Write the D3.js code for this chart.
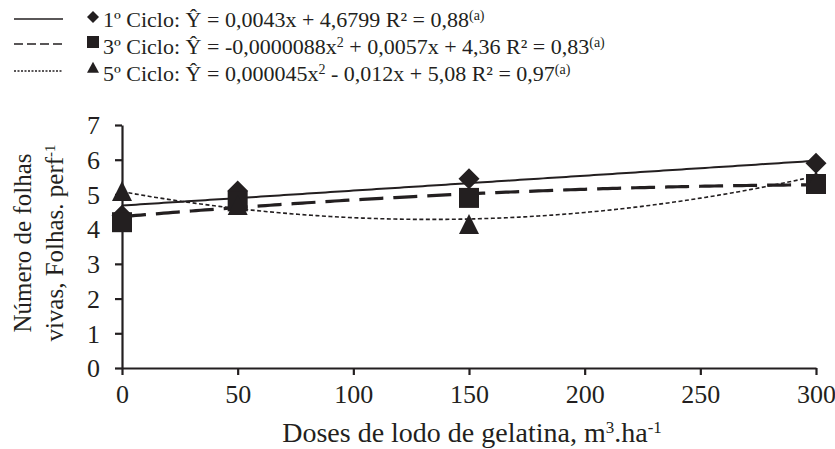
<!DOCTYPE html>
<html>
<head>
<meta charset="utf-8">
<script src="https://cdn.jsdelivr.net/npm/d3@7/dist/d3.min.js"></script>
<style>
  html, body { margin: 0; padding: 0; background: #fff; }
  svg { display: block; }
  text { font-family: "Liberation Serif", "Times New Roman", serif; fill: #231f20; }
</style>
</head>
<body>
<svg id="chart" width="835" height="449"></svg>
<script>
// Doses of gelatin sludge (m³/ha)
const doses = [0, 50, 150, 300];

// Mean number of live leaves per tiller, by growth cycle
const ciclo1 = [4.4, 5.1, 5.45, 5.9];
const ciclo3 = [4.2, 4.8, 4.9, 5.3];
const ciclo5 = [5.0, 4.6, 4.05, 5.3];

// Fitted regression coefficients [c2, c1, c0] for ŷ = c2·x² + c1·x + c0
const coef1 = [0, 0.0043, 4.6799];
const coef3 = [-0.0000088, 0.0057, 4.36];
const coef5 = [0.000045, -0.012, 5.08];

const xTicks = [0, 50, 100, 150, 200, 250, 300];
const yTicks = [0, 1, 2, 3, 4, 5, 6, 7];

const ink = "#231f20";
const legendFont = "22px";
const axisFont = "26px";
const xTitleFont = "28px";
const yTitleFont = "25px";
const supSize = "15px";
const svg = d3.select("#chart");

const x = d3.scaleLinear().domain([0, 300]).range([122, 816]);
const y = d3.scaleLinear().domain([0, 7]).range([368, 125]);

// Axes
const xAxis = svg.append("g")
  .attr("transform", `translate(0,${y(0)})`)
  .call(d3.axisBottom(x).tickValues(xTicks).tickFormat(d3.format("d"))
    .tickSize(7).tickSizeOuter(0).tickPadding(10));
const yAxis = svg.append("g")
  .attr("transform", `translate(${x(0)},0)`)
  .call(d3.axisLeft(y).tickValues(yTicks).tickFormat(d3.format("d"))
    .tickSize(7).tickSizeOuter(0).tickPadding(15));

[xAxis, yAxis].forEach(g => {
  g.select(".domain").attr("stroke", ink).attr("stroke-width", 2.2);
  g.selectAll(".tick line").attr("stroke", ink).attr("stroke-width", 2.2);
  g.selectAll(".tick text")
    .attr("fill", ink)
    .style("font-family", '"Liberation Serif", "Times New Roman", serif')
    .style("font-size", axisFont);
});
yAxis.selectAll(".tick text").attr("dy", "0.34em");

// Marker shapes
function diamondPath(r) { return `M0,${-r}L${r},0L0,${r}L${-r},0Z`; }
function squarePath(h) { return `M${-h},${-h}H${h}V${h}H${-h}Z`; }
function trianglePath(w, h) { return `M0,${-h * 2 / 3}L${w / 2},${h / 3}L${-w / 2},${h / 3}Z`; }

const series = [
  { values: ciclo1, coef: coef1, dash: null, width: 2, shape: diamondPath(10.5), legendShape: diamondPath(6),
    eq: [{ t: "1º Ciclo: Ŷ = 0,0043x + 4,6799 R² = 0,88" }, { t: "(a)", sup: true }] },
  { values: ciclo3, coef: coef3, dash: "24,10", width: 3.2, shape: squarePath(10), legendShape: squarePath(6),
    eq: [{ t: "3º Ciclo: Ŷ = -0,0000088x" }, { t: "2", sup: true }, { t: " + 0,0057x + 4,36 R² = 0,83" }, { t: "(a)", sup: true }] },
  { values: ciclo5, coef: coef5, dash: "4,2.5", width: 1.6, shape: trianglePath(20, 20), legendShape: trianglePath(12, 11),
    eq: [{ t: "5º Ciclo: Ŷ = 0,000045x" }, { t: "2", sup: true }, { t: " - 0,012x + 5,08 R² = 0,97" }, { t: "(a)", sup: true }] }
];

// Regression curves
const line = d3.line().x(d => x(d[0])).y(d => y(d[1]));
series.forEach(s => {
  const pts = d3.range(0, 301, 2).map(v => [v, s.coef[0] * v * v + s.coef[1] * v + s.coef[2]]);
  svg.append("path")
    .attr("d", line(pts))
    .attr("fill", "none")
    .attr("stroke", ink)
    .attr("stroke-width", s.width)
    .attr("stroke-dasharray", s.dash);
});

// Observed means
series.forEach(s => {
  svg.append("g").selectAll("path")
    .data(doses.map((d, i) => [d, s.values[i]]))
    .join("path")
    .attr("d", s.shape)
    .attr("transform", d => `translate(${x(d[0])},${y(d[1])})`)
    .attr("fill", ink);
});

// Legend
const legendRows = [19, 44, 71];
const legendBase = [27, 54, 81];
series.forEach((s, i) => {
  const g = svg.append("g");
  g.append("line")
    .attr("x1", 14).attr("x2", 63)
    .attr("y1", legendRows[i]).attr("y2", legendRows[i])
    .attr("stroke", ink)
    .attr("stroke-width", i === 1 ? 1.6 : 1.3)
    .attr("stroke-dasharray", i === 1 ? "9,4" : (i === 2 ? "2,1.5" : null));
  g.append("path")
    .attr("d", s.legendShape)
    .attr("transform", `translate(93,${legendRows[i] - 2})`)
    .attr("fill", ink);
  const t = g.append("text")
    .attr("x", 103)
    .attr("y", legendBase[i])
    .style("font-size", legendFont);
  s.eq.forEach(p => {
    const sp = t.append("tspan").text(p.t);
    if (p.sup) sp.attr("baseline-shift", "super").style("font-size", "14px");
  });
});

// Axis titles
const xt = svg.append("text")
  .attr("x", 472).attr("y", 442)
  .attr("text-anchor", "middle")
  .style("font-size", xTitleFont);
xt.append("tspan").text("Doses de lodo de gelatina, m");
xt.append("tspan").text("3").attr("baseline-shift", "super").style("font-size", "17px");
xt.append("tspan").text(".ha");
xt.append("tspan").text("-1").attr("baseline-shift", "super").style("font-size", "17px");

const yt = svg.append("g").attr("transform", "translate(0,243) rotate(-90)");
yt.append("text")
  .attr("x", 0).attr("y", 31)
  .attr("text-anchor", "middle")
  .style("font-size", yTitleFont)
  .text("Número de folhas");
const yt2 = yt.append("text")
  .attr("x", 0).attr("y", 63)
  .attr("text-anchor", "middle")
  .style("font-size", yTitleFont);
yt2.append("tspan").text("vivas, Folhas. perf");
yt2.append("tspan").text("-1").attr("baseline-shift", "super").style("font-size", supSize);
</script>
</body>
</html>
